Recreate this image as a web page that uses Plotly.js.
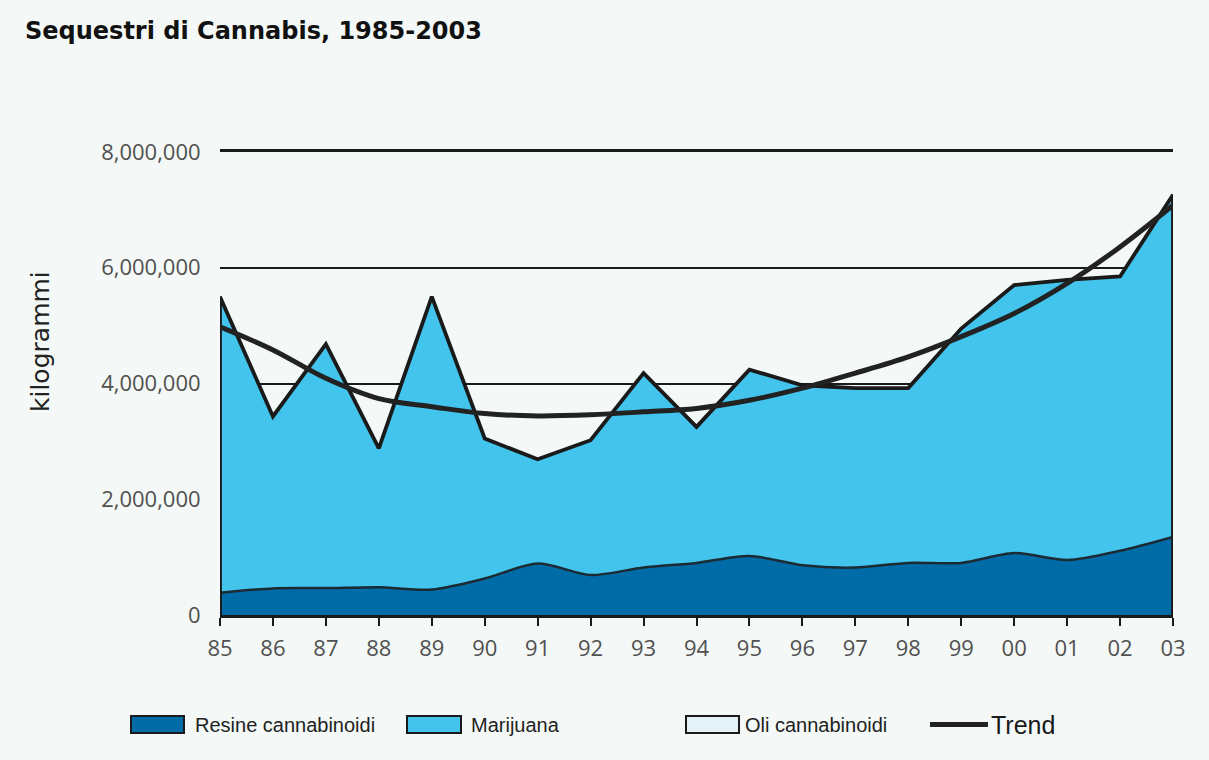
<!DOCTYPE html>
<html>
<head>
<meta charset="utf-8">
<script src="https://cdn.plot.ly/plotly-3.0.1.min.js"></script>
<style>
  html, body { margin: 0; padding: 0; background: #f4f9f7; }
  #chart { width: 1209px; height: 760px; }
</style>
</head>
<body>
<div id="chart"></div>
<script>
// ---- Data (kg) ----
const years = ['85','86','87','88','89','90','91','92','93','94','95','96','97','98','99','00','01','02','03'];
const resine = [385000, 460000, 465000, 480000, 440000, 630000, 890000, 690000, 820000, 900000,
                1020000, 860000, 820000, 900000, 900000, 1070000, 950000, 1110000, 1350000];
const marijuana = [5103000, 2962000, 4206000, 2390000, 5045000, 2409000, 1791000, 2323000, 3350000, 2338000,
                   3206000, 3094000, 3080000, 3002000, 4035000, 4618000, 4830000, 4726000, 5894000];
const oli = [12000, 8000, 9000, 10000, 15000, 11000, 9000, 7000, 10000, 12000,
             14000, 16000, 20000, 18000, 15000, 12000, 10000, 14000, 16000];
const trend = [4980000, 4580000, 4090000, 3740000, 3600000, 3480000, 3440000, 3460000, 3510000, 3570000,
               3710000, 3920000, 4180000, 4460000, 4810000, 5210000, 5730000, 6360000, 7080000];
const yTicks = [0, 2000000, 4000000, 6000000, 8000000];
const legendLabels = ['Resine cannabinoidi', 'Marijuana', 'Oli cannabinoidi', 'Trend'];

// ---- Styles ----
const C_RES = '#006ca7';
const C_MAR = '#42c4ec';
const C_OLI = '#e4f2f7';
const C_INK = '#1a1a1a';
const BG = '#f4f9f7';

// total outline (closed on both sides down to zero)
const totals = years.map((_, i) => resine[i] + marijuana[i] + oli[i]);
const outlineX = [years[0]].concat(years, [years[years.length - 1]]);
const outlineY = [0].concat(totals, [0]);

const traces = [
  { x: years, y: resine, type: 'scatter', mode: 'lines', stackgroup: 'one', name: legendLabels[0],
    fillcolor: C_RES, line: { color: '#1c2a33', width: 2.5, shape: 'spline', smoothing: 0.8 }, hoverinfo: 'skip' },
  { x: years, y: marijuana, type: 'scatter', mode: 'lines', stackgroup: 'one', name: legendLabels[1],
    fillcolor: C_MAR, line: { color: C_INK, width: 0 }, hoverinfo: 'skip' },
  { x: years, y: oli, type: 'scatter', mode: 'lines', stackgroup: 'one', name: legendLabels[2],
    fillcolor: C_OLI, line: { color: C_INK, width: 0 }, hoverinfo: 'skip' },
  { x: outlineX, y: outlineY, type: 'scatter', mode: 'lines', showlegend: false,
    line: { color: C_INK, width: 3.8 }, hoverinfo: 'skip' },
  { x: years, y: trend, type: 'scatter', mode: 'lines', name: legendLabels[3],
    line: { color: '#222222', width: 5, shape: 'spline', smoothing: 1 }, hoverinfo: 'skip' }
];

// paper-coordinate helpers for layout placement (plot area: x 220..1173, y 152..615)
const L = 220, R = 1173, T = 152, B = 615;
const px = v => (v - L) / (R - L);
const py = v => (B - v) / (B - T);

const legY0 = 716, legY1 = 733, legMid = 724.5;
const shapes = [
  { type: 'rect', xref: 'paper', yref: 'paper', x0: px(131), x1: px(184), y0: py(legY1), y1: py(legY0),
    fillcolor: C_RES, line: { color: C_INK, width: 2 } },
  { type: 'rect', xref: 'paper', yref: 'paper', x0: px(407), x1: px(461), y0: py(legY1), y1: py(legY0),
    fillcolor: C_MAR, line: { color: C_INK, width: 2 } },
  { type: 'rect', xref: 'paper', yref: 'paper', x0: px(686), x1: px(739), y0: py(legY1), y1: py(legY0),
    fillcolor: C_OLI, line: { color: C_INK, width: 2 } },
  { type: 'line', xref: 'paper', yref: 'paper', x0: px(930), x1: px(988), y0: py(legMid), y1: py(legMid),
    line: { color: '#222222', width: 5 } }
];

const legFont = { family: 'Liberation Sans, Arial, sans-serif', size: 20, color: '#222222' };
const annotations = [
  { xref: 'paper', yref: 'paper', x: px(193), y: py(legMid), xanchor: 'left', yanchor: 'middle',
    text: legendLabels[0], showarrow: false, font: legFont },
  { xref: 'paper', yref: 'paper', x: px(469), y: py(legMid), xanchor: 'left', yanchor: 'middle',
    text: legendLabels[1], showarrow: false, font: legFont },
  { xref: 'paper', yref: 'paper', x: px(743), y: py(legMid), xanchor: 'left', yanchor: 'middle',
    text: legendLabels[2], showarrow: false, font: legFont },
  { xref: 'paper', yref: 'paper', x: px(989), y: py(legMid), xanchor: 'left', yanchor: 'middle',
    text: legendLabels[3], showarrow: false,
    font: { family: 'Liberation Sans, Arial, sans-serif', size: 25, color: '#1a1a1a' } },
  { xref: 'paper', yref: 'paper', x: px(40), y: py(342), xanchor: 'center', yanchor: 'middle',
    text: 'kilogrammi', textangle: -90, showarrow: false,
    font: { family: 'DejaVu Sans, sans-serif', size: 25, color: '#222222' } }
];

const tickFont = { family: 'Open Sans, sans-serif', size: 22, color: '#505050' };

const layout = {
  width: 1209, height: 760,
  paper_bgcolor: BG, plot_bgcolor: BG,
  margin: { l: L, r: 1209 - R, t: T, b: 760 - B, pad: 0 },
  showlegend: false,
  title: {
    text: 'Sequestri di Cannabis, 1985-2003',
    xref: 'container', yref: 'container',
    x: 25 / 1209, xanchor: 'left', y: 1 - 31 / 760, yanchor: 'middle',
    font: { family: 'DejaVu Sans, sans-serif', size: 24, weight: 'bold', color: '#111111' }
  },
  xaxis: {
    type: 'category', range: [0, years.length - 1],
    showgrid: false, zeroline: false,
    showline: true, linecolor: C_INK, linewidth: 3, mirror: true,
    ticks: 'outside', ticklen: 8, tickwidth: 2, tickcolor: C_INK,
    ticklabelstandoff: 4,
    tickfont: tickFont, fixedrange: true
  },
  yaxis: {
    range: [0, 8000000], tickvals: yTicks, tickformat: ',d',
    showgrid: true, gridcolor: C_INK, gridwidth: 2,
    zeroline: false, showline: false,
    ticks: 'outside', ticklen: 14, tickcolor: 'rgba(0,0,0,0)',
    tickfont: tickFont, fixedrange: true
  },
  shapes: shapes,
  annotations: annotations
};

Plotly.newPlot('chart', traces, layout, { displayModeBar: false, staticPlot: true });
</script>
</body>
</html>
